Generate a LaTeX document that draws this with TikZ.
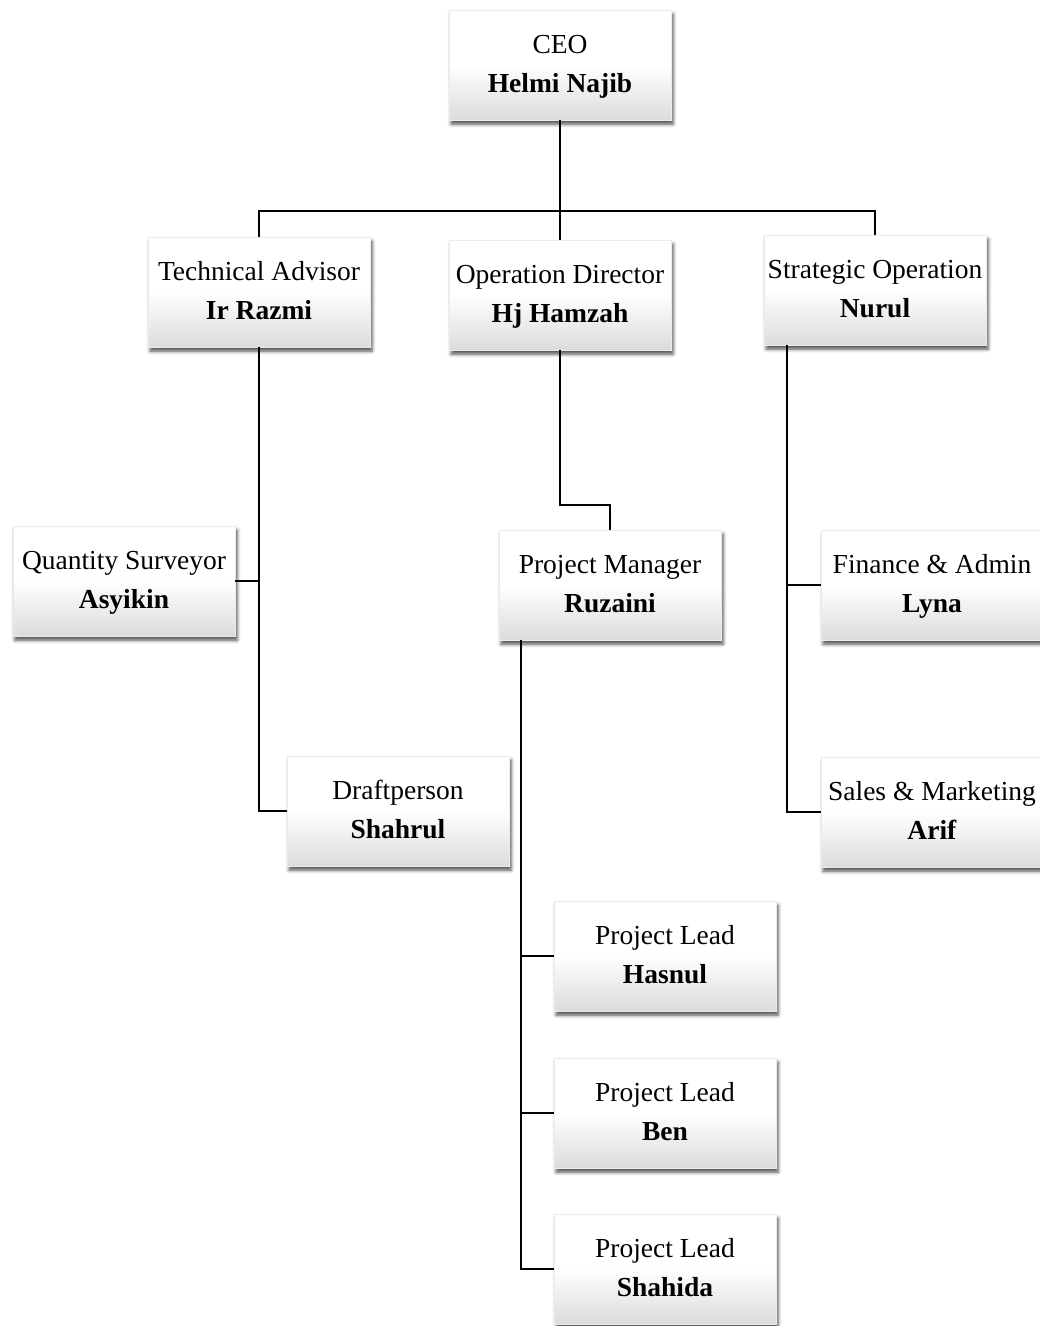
\documentclass[tikz,border=0pt]{standalone}
\usepackage{fontspec}
\setmainfont{Liberation Serif}
\usetikzlibrary{shadows.blur}
\newcommand{\boxtext}[2]{\raisebox{-3pt}{\begin{tabular}{@{}c@{}}#1\\[-0.5pt]\textbf{#2}\end{tabular}}}
\begin{document}
\begin{tikzpicture}[x=1pt,y=-1pt,
  box/.style={rectangle, minimum width=222pt, minimum height=110pt, inner sep=0pt,
    top color=white, bottom color=black!14, middle color=white, draw=black!8, line width=0.4pt,
    blur shadow={shadow xshift=2pt, shadow yshift=-4pt, shadow blur radius=3.5pt, shadow opacity=70},
    align=center, font=\fontsize{27.5}{39}\selectfont},
  conn/.style={line width=2.2pt, black}]
\useasboundingbox (0,0) rectangle (1040,1326);
\coordinate (j1) at (560,211);
\coordinate (j2) at (560,505);
% boxes
\node[box] (ceo) at (560,65) {\boxtext{CEO}{Helmi Najib}};
\node[box] (tadv) at (259,292) {\boxtext{Technical Advisor}{Ir Razmi}};
\node[box] (od) at (560,295) {\boxtext{Operation Director}{Hj Hamzah}};
\node[box] (so) at (875,290) {\boxtext{Strategic Operation}{Nurul}};
\node[box] (qs) at (124,581) {\boxtext{Quantity Surveyor}{Asyikin}};
\node[box] (pm) at (610,585) {\boxtext{Project Manager}{Ruzaini}};
\node[box] (fa) at (932,585) {\boxtext{Finance \& Admin}{Lyna}};
\node[box] (dp) at (398,811) {\boxtext{Draftperson}{Shahrul}};
\node[box] (sm) at (932,812) {\boxtext{Sales \& Marketing}{Arif}};
\node[box] (pl1) at (665,956) {\boxtext{Project Lead}{Hasnul}};
\node[box] (pl2) at (665,1113) {\boxtext{Project Lead}{Ben}};
\node[box] (pl3) at (665,1269) {\boxtext{Project Lead}{Shahida}};
% trunk points
\coordinate (s1) at ([xshift=23pt]so.south west);
\coordinate (p1) at ([xshift=22pt]pm.south west);
% connectors
\draw[conn] (ceo.south) -- (j1);
\draw[conn] (tadv.north) |- (j1) -| (so.north);
\draw[conn] (j1) -- (od.north);
\draw[conn] (tadv.south) |- (dp.west);
\draw[conn] (qs.east) -- (qs.east -| tadv.south);
\draw[conn] (od.south) -- (j2) -| (pm.north);
\draw[conn] (s1) |- (sm.west);
\draw[conn] (fa.west) -- (fa.west -| s1);
\draw[conn] (p1) |- (pl3.west);
\draw[conn] (pl1.west) -- (pl1.west -| p1);
\draw[conn] (pl2.west) -- (pl2.west -| p1);
\end{tikzpicture}
\end{document}
